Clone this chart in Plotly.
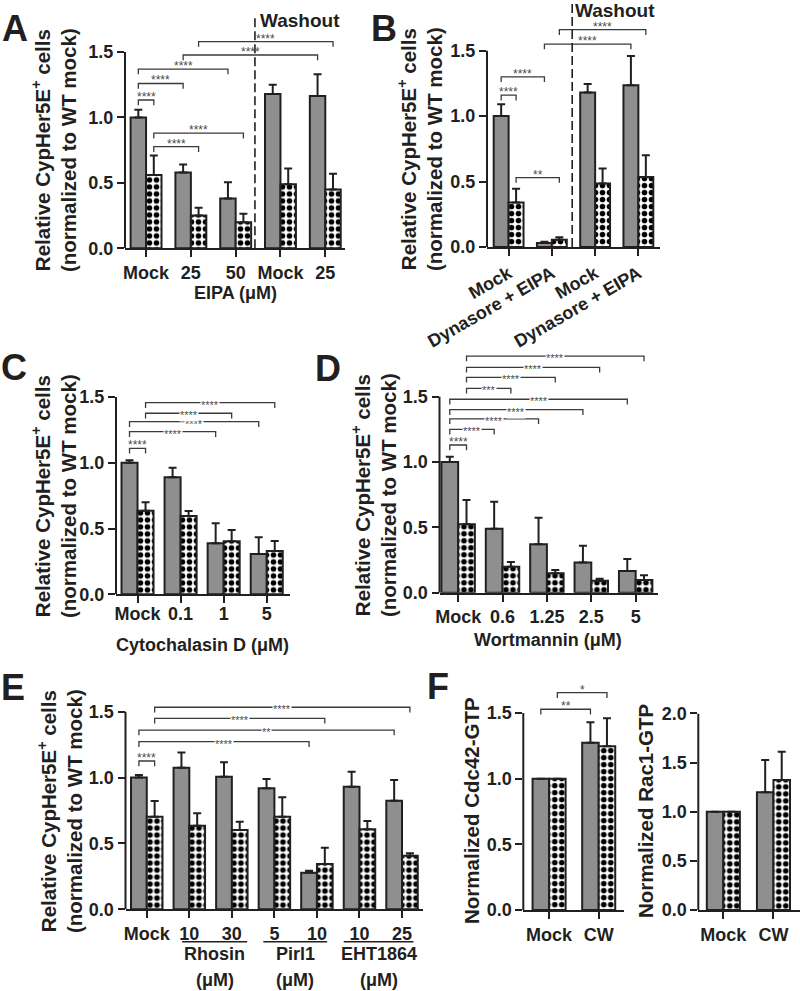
import plotly.graph_objects as go

W, H = 800, 991

# ---------------- DATA ----------------
# Panel A (EIPA, washout)
a_labels = ["Mock", "25", "50", "Mock", "25"]
a_gray = [1.00, 0.58, 0.38, 1.18, 1.165]
a_gray_err = [0.06, 0.06, 0.125, 0.07, 0.165]
a_check = [0.56, 0.25, 0.20, 0.49, 0.45]
a_check_err = [0.15, 0.06, 0.065, 0.12, 0.12]
a_brackets = [(0, 0, 0, 1, 1.134, "****"), (0, 0, 1, 0, 1.26, "****"), (0, 0, 2, 0, 1.37, "****"),
              (0, 1, 1, 1, 0.777, "****"), (0, 1, 2, 1, 0.88, "****"),
              (1, 0, 4, 0, 1.478, "****"), (1, 1, 4, 1, 1.58, "****")]

# Panel B (Dynasore + EIPA, washout)
b_labels = ["Mock", "Dynasore + EIPA", "Mock", "Dynasore + EIPA"]
b_gray = [1.00, 0.03, 1.18, 1.235]
b_gray_err = [0.09, 0.01, 0.065, 0.225]
b_check = [0.34, 0.056, 0.486, 0.535]
b_check_err = [0.105, 0.018, 0.114, 0.165]
b_brackets = [(0, 0, 0, 1, 1.16, "****"), (0, 0, 1, 0, 1.30, "****"), (0, 1, 1, 1, 0.53, "**"),
              (1, 0, 3, 0, 1.55, "****"), (1, 1, 3, 1, 1.66, "****")]

# Panel C (Cytochalasin D)
c_labels = ["Mock", "0.1", "1", "5"]
c_gray = [1.00, 0.89, 0.388, 0.306]
c_gray_err = [0.02, 0.073, 0.152, 0.127]
c_check = [0.636, 0.595, 0.403, 0.33]
c_check_err = [0.064, 0.038, 0.086, 0.075]
c_brackets = [(0, 0, 0, 1, 1.11, "****"), (0, 0, 2, 0, 1.237, "****"), (0, 0, 3, 0, 1.313, "****"),
              (0, 1, 2, 1, 1.377, "****"), (0, 1, 3, 1, 1.457, "****")]

# Panel D (Wortmannin)
d_labels = ["Mock", "0.6", "1.25", "2.5", "5"]
d_gray = [1.00, 0.49, 0.37, 0.232, 0.166]
d_gray_err = [0.04, 0.206, 0.204, 0.128, 0.092]
d_check = [0.523, 0.199, 0.148, 0.092, 0.097]
d_check_err = [0.186, 0.036, 0.026, 0.015, 0.036]
d_brackets = [(0, 0, 0, 1, 1.13, "****"), (0, 0, 1, 0, 1.25, "****"), (0, 0, 2, 0, 1.33, "****"),
              (0, 0, 3, 0, 1.40, "****"), (0, 0, 4, 0, 1.48, "****"),
              (0, 1, 1, 1, 1.564, "***"), (0, 1, 2, 1, 1.648, "****"),
              (0, 1, 3, 1, 1.724, "****"), (0, 1, 4, 1, 1.81, "****")]

# Panel E (Rhosin, Pirl1, EHT1864)
e_labels = ["Mock", "10", "30", "5", "10", "10", "25"]
e_groups = ["Rhosin", "Pirl1", "EHT1864"]
e_gray = [1.00, 1.075, 1.007, 0.919, 0.278, 0.931, 0.825]
e_gray_err = [0.02, 0.115, 0.109, 0.071, 0.015, 0.114, 0.157]
e_check = [0.703, 0.635, 0.602, 0.703, 0.344, 0.607, 0.407]
e_check_err = [0.119, 0.094, 0.063, 0.147, 0.124, 0.063, 0.018]
e_brackets = [(0, 0, 0, 1, 1.126, "****"), (0, 0, 4, 0, 1.273, "****"), (0, 0, 6, 0, 1.361, "**"),
              (0, 1, 4, 1, 1.45, "****"), (0, 1, 6, 1, 1.534, "****")]

# Panel F (Cdc42-GTP and Rac1-GTP)
f_labels = ["Mock", "CW"]
f1_gray = [1.00, 1.274]
f1_gray_err = [0.0, 0.156]
f1_check = [1.00, 1.247]
f1_check_err = [0.0, 0.213]
f1_brackets = [(0, 0, 1, 0, 1.529, "**"), (0, 1, 1, 1, 1.655, "*")]
f2_gray = [1.00, 1.197]
f2_gray_err = [0.0, 0.329]
f2_check = [1.00, 1.322]
f2_check_err = [0.0, 0.288]

# ---------------- STYLE ----------------
FONT = "Liberation Sans, Arial, Helvetica, sans-serif"
INK = "#231f20"
GRAY = "#8f8f8f"
BRK = "#3a3a3a"
STAR = "#4a4a4a"

def pxx(px):
    return px / W

def pxy(py):
    return 1 - py / H

panels = [
    dict(labels=a_labels, gray=a_gray, gerr=a_gray_err, chk=a_check, cerr=a_check_err, br=a_brackets,
         xpx=(125, 345), y0=248.3, ppu=130.8, ymax=1.78, xr=(-0.47, 4.44), bw=0.345, ytop=1.5,
         inline=False, angle=0, stand=0),
    dict(labels=b_labels, gray=b_gray, gerr=b_gray_err, chk=b_check, cerr=b_check_err, br=b_brackets,
         xpx=(487, 660), y0=247, ppu=130.9, ymax=1.886, xr=(-0.5, 3.5), bw=0.345, ytop=1.5,
         inline=False, angle=-30, stand=0),
    dict(labels=c_labels, gray=c_gray, gerr=c_gray_err, chk=c_check, cerr=c_check_err, br=c_brackets,
         xpx=(116, 290), y0=594.3, ppu=131.5, ymax=1.55, xr=(-0.5, 3.54), bw=0.372, ytop=1.5,
         inline=True, angle=0, stand=-5),
    dict(labels=d_labels, gray=d_gray, gerr=d_gray_err, chk=d_check, cerr=d_check_err, br=d_brackets,
         xpx=(439.5, 658.3), y0=592.7, ppu=130.7, ymax=1.87, xr=(-0.42, 4.51), bw=0.377, ytop=1.5,
         inline=True, angle=0, stand=0),
    dict(labels=e_labels, gray=e_gray, gerr=e_gray_err, chk=e_check, cerr=e_check_err, br=e_brackets,
         xpx=(125.5, 423.3), y0=909.3, ppu=131.7, ymax=1.6, xr=(-0.5, 6.5), bw=0.37, ytop=1.5,
         inline=True, angle=0, stand=0),
    dict(labels=f_labels, gray=f1_gray, gerr=f1_gray_err, chk=f1_check, cerr=f1_check_err, br=f1_brackets,
         xpx=(523.3, 624), y0=910, ppu=131.3, ymax=1.72, xr=(-0.52, 1.51), bw=0.333, ytop=1.5,
         inline=False, angle=0, stand=0),
    dict(labels=f_labels, gray=f2_gray, gerr=f2_gray_err, chk=f2_check, cerr=f2_check_err, br=[],
         xpx=(698.3, 800), y0=910, ppu=98.3, ymax=2.0, xr=(-0.5, 1.53), bw=0.33, ytop=2.0,
         inline=False, angle=0, stand=0),
]

fig = go.Figure()
shapes = []
annotations = []
layout_axes = {}

for i, p in enumerate(panels, start=1):
    xa = "x" if i == 1 else f"x{i}"
    ya = "y" if i == 1 else f"y{i}"
    xkey = "xaxis" if i == 1 else f"xaxis{i}"
    ykey = "yaxis" if i == 1 else f"yaxis{i}"
    idx = list(range(len(p["labels"])))
    bw = p["bw"]
    n = len(idx)

    fig.add_trace(go.Bar(
        x=idx, y=p["gray"], width=[bw] * n, offset=-bw, xaxis=xa, yaxis=ya,
        marker=dict(color=GRAY, line=dict(color=INK, width=2)),
        error_y=dict(type="data", array=p["gerr"], arrayminus=[0] * n, symmetric=False,
                     color=INK, thickness=2, width=4),
        showlegend=False, hoverinfo="skip"))
    fig.add_trace(go.Bar(
        x=idx, y=p["chk"], width=[bw] * n, offset=0, xaxis=xa, yaxis=ya,
        marker=dict(color="white", line=dict(color=INK, width=2),
                    pattern=dict(shape=".", fgcolor="black", bgcolor="white", size=7, solidity=0.5)),
        error_y=dict(type="data", array=p["cerr"], arrayminus=[0] * n, symmetric=False,
                     color=INK, thickness=2, width=4),
        showlegend=False, hoverinfo="skip"))

    ytop_px = p["y0"] - p["ymax"] * p["ppu"]
    ydom = [max(0, pxy(p["y0"])), min(1, pxy(ytop_px))]
    ticks = [0, 0.5, 1.0, 1.5] if p["ytop"] == 1.5 else [0, 0.5, 1.0, 1.5, 2.0]

    layout_axes[xkey] = dict(
        domain=[pxx(p["xpx"][0]), pxx(p["xpx"][1])], range=list(p["xr"]), anchor=ya,
        tickmode="array", tickvals=idx, ticktext=p["labels"], tickangle=p["angle"],
        ticks="outside", ticklen=7, tickwidth=2, tickcolor=INK, automargin=False,
        ticklabelstandoff=p["stand"],
        showline=True, linewidth=2, linecolor=INK, showgrid=False, zeroline=False,
        tickfont=dict(family=FONT, size=18, color=INK, weight="bold"), fixedrange=True)
    layout_axes[ykey] = dict(
        domain=ydom, range=[0, p["ymax"]], anchor=xa, automargin=False,
        tickmode="array", tickvals=ticks, tickformat=".1f",
        ticks="outside", ticklen=7, tickwidth=2, tickcolor=INK,
        showline=False, showgrid=False, zeroline=False,
        tickfont=dict(family=FONT, size=18, color=INK, weight="bold"), fixedrange=True)

    # y axis line from 0 to top tick
    shapes.append(dict(type="line", xref=f"{xa} domain", yref=ya, x0=0, x1=0, y0=0, y1=p["ytop"],
                       line=dict(color=INK, width=2)))

    # significance brackets
    leg = 0.04
    for (g1, s1, g2, s2, yv, txt) in p["br"]:
        xa1 = g1 + (-bw / 2 if s1 == 0 else bw / 2)
        xa2 = g2 + (-bw / 2 if s2 == 0 else bw / 2)
        shapes.append(dict(type="path", xref=xa, yref=ya,
                           path=f"M {xa1},{yv - leg} L {xa1},{yv} L {xa2},{yv} L {xa2},{yv - leg}",
                           line=dict(color=BRK, width=1.3)))
        inline = p["inline"] and g1 != g2
        if inline:
            annotations.append(dict(x=(xa1 + xa2) / 2, y=yv, xref=xa, yref=ya, text=txt,
                                    showarrow=False, xanchor="center", yanchor="middle", yshift=-2,
                                    bgcolor="white", borderpad=0,
                                    font=dict(family=FONT, size=11, color=STAR)))
        else:
            annotations.append(dict(x=(xa1 + xa2) / 2, y=yv, xref=xa, yref=ya, text=txt,
                                    showarrow=False, xanchor="center", yanchor="bottom", yshift=-6,
                                    font=dict(family=FONT, size=12, color=STAR)))

# dashed washout separators
shapes.append(dict(type="line", xref="x", yref="y", x0=2.43, x1=2.43, y0=0, y1=1.76,
                   line=dict(color=INK, width=1.6, dash="9px,4px")))
shapes.append(dict(type="line", xref="x2", yref="y2", x0=1.47, x1=1.47, y0=0, y1=1.886,
                   line=dict(color=INK, width=1.6, dash="9px,4px")))

# E group underlines and labels
e_spans = [(0.83, 2.36), (2.74, 4.24), (4.63, 6.27)]
for (x0, x1), name in zip(e_spans, e_groups):
    shapes.append(dict(type="line", xref="x5", yref="paper", x0=x0, x1=x1, y0=pxy(941.7), y1=pxy(941.7),
                       line=dict(color=INK, width=1.5)))
    annotations.append(dict(x=(x0 + x1) / 2, y=pxy(954), xref="x5", yref="paper", text=name,
                            showarrow=False, xanchor="center", yanchor="middle",
                            font=dict(family=FONT, size=18, color=INK, weight="bold")))
    annotations.append(dict(x=(x0 + x1) / 2, y=pxy(979.5), xref="x5", yref="paper", text="(μM)",
                            showarrow=False, xanchor="center", yanchor="middle",
                            font=dict(family=FONT, size=18, color=INK, weight="bold")))

def txt(x, y, s, size=18, angle=0):
    annotations.append(dict(x=pxx(x), y=pxy(y), xref="paper", yref="paper", text=s, showarrow=False,
                            xanchor="center", yanchor="middle", textangle=angle,
                            font=dict(family=FONT, size=size, color=INK, weight="bold")))

ytitle = "Relative CypHer5E<sup>+</sup> cells<br>(normalized to WT mock)"
txt(54, 150, ytitle, 20.5, -90)
txt(420, 149, ytitle, 20.5, -90)
txt(54, 496, ytitle, 20.5, -90)
txt(374, 495, ytitle, 20.5, -90)
txt(60, 811, ytitle, 20.5, -90)
txt(471, 811, "Normalized Cdc42-GTP", 20.5, -90)
txt(645, 811, "Normalized Rac1-GTP", 20.5, -90)

txt(235, 293, "EIPA (μM)")
txt(203, 645, "Cytochalasin D (μM)")
txt(548, 640, "Wortmannin (μM)")
txt(300, 21, "Washout", 19)
txt(615, 10, "Washout", 19)

for letter, (lx, ly) in zip("ABCDEF", [(15, 28), (384, 28), (14, 367), (328, 368), (13, 687), (438, 686)]):
    txt(lx, ly, letter, 36)

fig.update_layout(
    template="none",
    width=W, height=H, margin=dict(l=0, r=0, t=0, b=0, autoexpand=False),
    paper_bgcolor="white", plot_bgcolor="rgba(0,0,0,0)",
    barmode="overlay", showlegend=False,
    shapes=shapes, annotations=annotations,
    font=dict(family=FONT, color=INK),
    **layout_axes)

fig.write_html("out.html", config={"displayModeBar": False},
               post_script="document.body.style.margin='0px';document.body.style.overflow='hidden';")
